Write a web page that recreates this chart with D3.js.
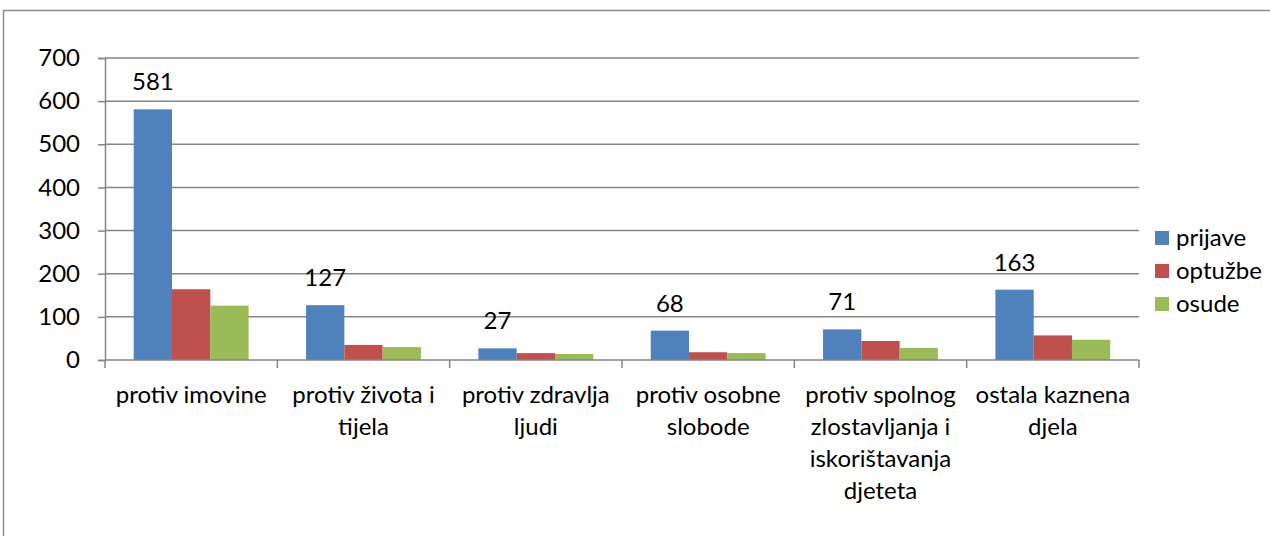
<!DOCTYPE html>
<html>
<head>
<meta charset="utf-8">
<script src="https://cdn.jsdelivr.net/npm/d3@7"></script>
<style>
  body { margin: 0; background: #fff; }
  text { font-family: Lato, "Open Sans", sans-serif; fill: #000; }
</style>
</head>
<body>
<svg id="chart" width="1270" height="536"></svg>
<script>
// categories (multi-line labels) and series
const categories = [
  ["protiv imovine"],
  ["protiv života i", "tijela"],
  ["protiv zdravlja", "ljudi"],
  ["protiv osobne", "slobode"],
  ["protiv spolnog", "zlostavljanja i", "iskorištavanja", "djeteta"],
  ["ostala kaznena", "djela"]
];
const seriesNames = ["prijave", "optužbe", "osude"];
const prijave = [581, 127, 27, 68, 71, 163];
const optuzbe = [164, 35, 16, 18, 44, 57];
const osude = [126, 30, 14, 16, 28, 47];
const yTicks = [0, 100, 200, 300, 400, 500, 600, 700];
const colors = ["#4F81BD", "#C0504D", "#9BBB59"];

const series = [prijave, optuzbe, osude];
const svg = d3.select("#chart");

const margin = { left: 105, right: 1139, top: 58, bottom: 360 };
const gridColor = "#868686";
const fontSize = "24px";

// outer frame
svg.append("rect")
  .attr("x", 3.5).attr("y", 10.5)
  .attr("width", 1300).attr("height", 600)
  .attr("fill", "none")
  .attr("stroke", "#8c8c8c")
  .attr("stroke-width", 1.5);

const x0 = d3.scaleBand()
  .domain(d3.range(categories.length))
  .range([margin.left, margin.right])
  .paddingInner(0).paddingOuter(0);

// gap width 150% => bars take 3/(3+1.5) of the group
const groupPad = (x0.bandwidth() - x0.bandwidth() * 3 / 4.5) / 2;
const x1 = d3.scaleBand()
  .domain(d3.range(series.length))
  .range([groupPad, x0.bandwidth() - groupPad]);

const y = d3.scaleLinear().domain([0, 700]).range([margin.bottom, margin.top]);

// gridlines
svg.append("g")
  .selectAll("line")
  .data(yTicks.filter(d => d > 0))
  .join("line")
  .attr("x1", margin.left).attr("x2", margin.right)
  .attr("y1", d => y(d)).attr("y2", d => y(d))
  .attr("stroke", gridColor).attr("stroke-width", 1.5);

// bars
series.forEach((vals, si) => {
  svg.append("g")
    .selectAll("rect")
    .data(vals)
    .join("rect")
    .attr("x", (d, i) => x0(i) + x1(si))
    .attr("y", d => y(d))
    .attr("width", x1.bandwidth())
    .attr("height", d => y(0) - y(d))
    .attr("fill", colors[si]);
});

// data labels (prijave only)
svg.append("g")
  .selectAll("text")
  .data(prijave)
  .join("text")
  .attr("x", (d, i) => x0(i) + x1(0) + x1.bandwidth() / 2)
  .attr("y", d => y(d) - 19)
  .attr("text-anchor", "middle")
  .style("font-size", fontSize)
  .text(d => d);

// y axis
const yAxis = svg.append("g")
  .attr("transform", `translate(${margin.left},0)`)
  .call(d3.axisLeft(y).tickValues(yTicks).tickSize(7).tickPadding(18));
yAxis.select(".domain").attr("stroke", gridColor).attr("stroke-width", 1.5);
yAxis.selectAll(".tick line").attr("stroke", gridColor).attr("stroke-width", 1.5);
yAxis.selectAll(".tick text")
  .style("font-size", fontSize)
  .style("font-family", "Lato, 'Open Sans', sans-serif")
  .attr("fill", "#000");

// x axis
const xAxis = svg.append("g")
  .attr("transform", `translate(0,${margin.bottom})`);
xAxis.append("line")
  .attr("x1", margin.left).attr("x2", margin.right)
  .attr("stroke", gridColor).attr("stroke-width", 1.5);
xAxis.selectAll("line.tick")
  .data(d3.range(categories.length + 1))
  .join("line")
  .attr("class", "tick")
  .attr("x1", i => margin.left + i * x0.bandwidth())
  .attr("x2", i => margin.left + i * x0.bandwidth())
  .attr("y1", 0).attr("y2", 8)
  .attr("stroke", gridColor).attr("stroke-width", 1.5);

const catLabels = svg.append("g")
  .selectAll("text")
  .data(categories)
  .join("text")
  .attr("text-anchor", "middle")
  .style("font-size", fontSize)
  .attr("transform", (d, i) => `translate(${x0(i) + x0.bandwidth() / 2},403)`);
catLabels.selectAll("tspan")
  .data(d => d)
  .join("tspan")
  .attr("x", 0)
  .attr("y", (d, i) => i * 32)
  .text(d => d);

// legend
const legend = svg.append("g").attr("transform", "translate(1155,231)");
seriesNames.forEach((name, i) => {
  const g = legend.append("g").attr("transform", `translate(0,${i * 33})`);
  g.append("rect").attr("width", 14).attr("height", 14).attr("fill", colors[i]);
  g.append("text")
    .attr("x", 21).attr("y", 7)
    .attr("dy", "0.35em")
    .style("font-size", fontSize)
    .text(name);
});
</script>
</body>
</html>
